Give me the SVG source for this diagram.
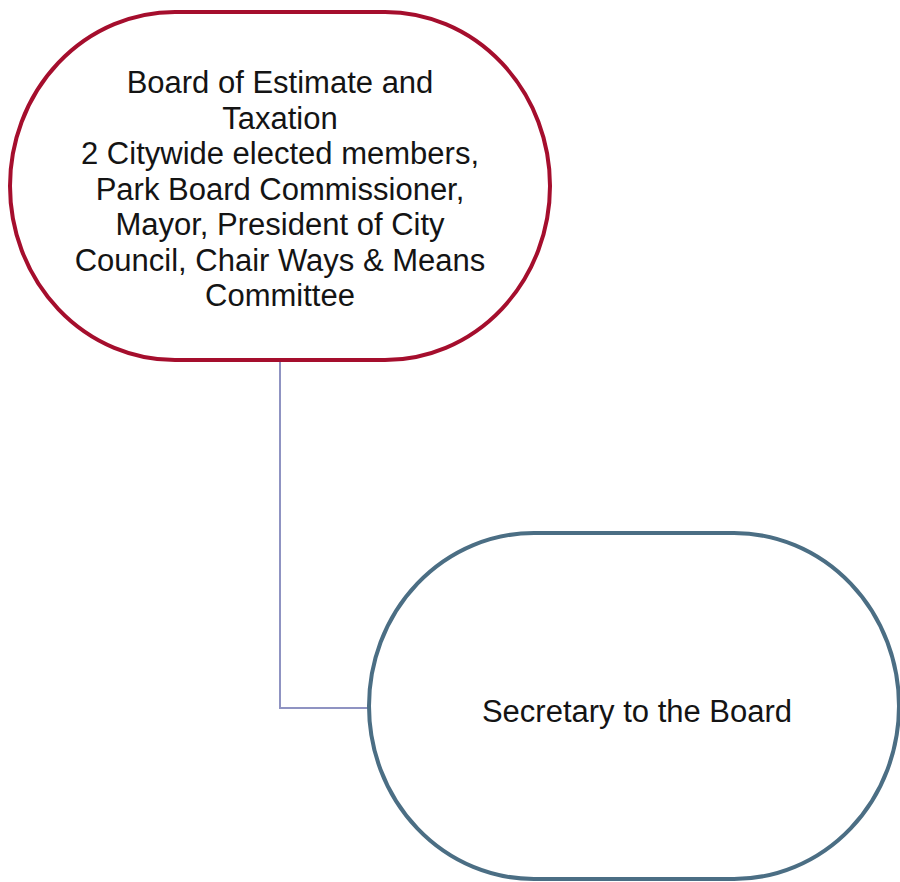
<svg xmlns="http://www.w3.org/2000/svg" width="900" height="882" viewBox="0 0 900 882">
<style>
.node{fill:#ffffff;stroke-width:4}
.lbl{font-family:"Liberation Sans",Arial,sans-serif;font-size:31px;fill:#141414;text-anchor:middle}
.conn{fill:none;stroke:#8F93C2;stroke-width:2}
</style>
<rect width="900" height="882" fill="#ffffff"/>
<g id="connectors">
<path class="conn" d="M280,361 V708 H369"/>
</g>
<g id="board">
<rect class="node" x="10" y="12" width="540" height="348" rx="165" ry="174" stroke="#A50E2D"/>
<text class="lbl" x="280" y="93">Board of Estimate and</text>
<text class="lbl" x="280" y="128.5">Taxation</text>
<text class="lbl" x="280" y="164">2 Citywide elected members,</text>
<text class="lbl" x="280" y="199.5">Park Board Commissioner,</text>
<text class="lbl" x="280" y="235">Mayor, President of City</text>
<text class="lbl" x="280" y="270.5">Council, Chair Ways &amp; Means</text>
<text class="lbl" x="280" y="306">Committee</text>
</g>
<g id="secretary">
<rect class="node" x="369" y="533" width="530" height="346" rx="165" ry="173" stroke="#4B6E84"/>
<text class="lbl" x="637" y="722">Secretary to the Board</text>
</g>
</svg>
